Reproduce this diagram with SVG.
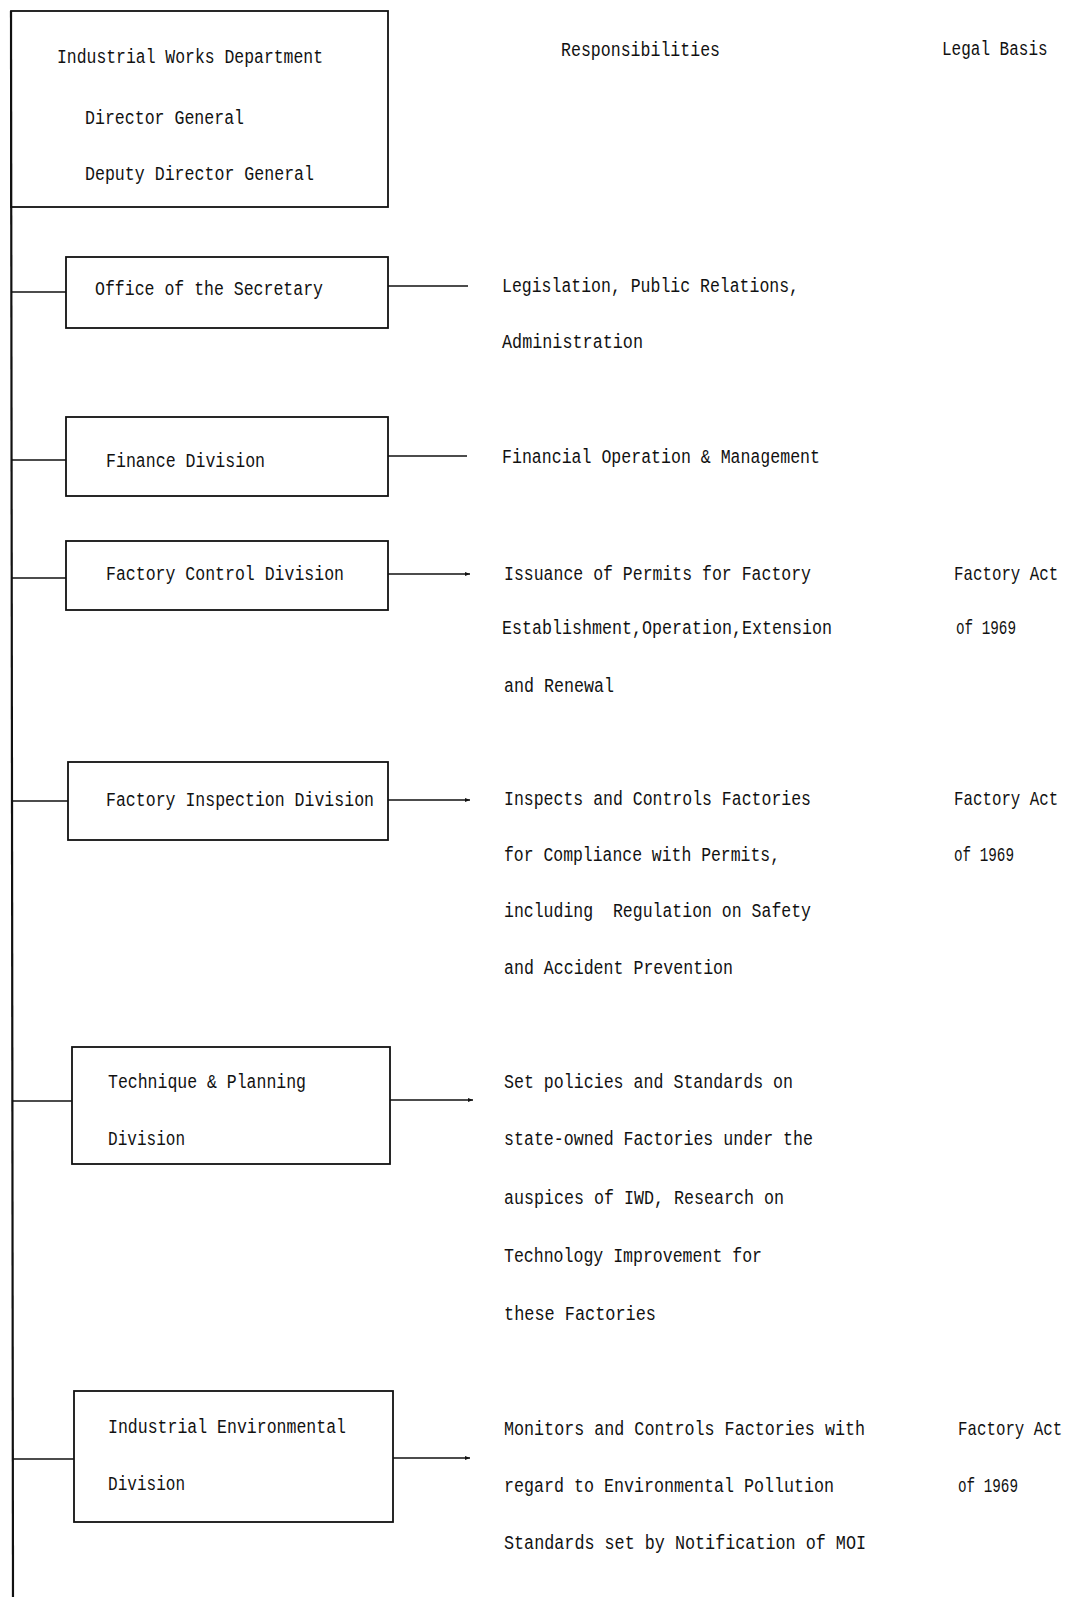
<svg xmlns="http://www.w3.org/2000/svg" width="1068" height="1597" viewBox="0 0 1068 1597">
<style>
.box{fill:none;stroke:#111;stroke-width:1.8}
.ln{fill:none;stroke:#111;stroke-width:1.6}
text{font-family:"Liberation Mono","DejaVu Sans Mono",monospace;font-size:20px;fill:#111}
</style>
<defs>
<marker id="ah" markerWidth="6" markerHeight="6" refX="5" refY="3" orient="auto" markerUnits="userSpaceOnUse">
<path d="M0,1 L5,3 L0,5 Z" fill="#111"/>
</marker>
</defs>
<rect width="1068" height="1597" fill="#fff"/>

<g id="connectors">
<line class="ln" x1="11" y1="11" x2="13" y2="1597" style="stroke-width:2.2"/>
<line class="ln" x1="12" y1="292" x2="66" y2="292"/>
<line class="ln" x1="388" y1="286" x2="468" y2="286"/>
<line class="ln" x1="12" y1="460" x2="66" y2="460"/>
<line class="ln" x1="388" y1="456" x2="467" y2="456"/>
<line class="ln" x1="12" y1="578" x2="66" y2="578"/>
<line class="ln" x1="388" y1="574" x2="470" y2="574" marker-end="url(#ah)"/>
<line class="ln" x1="12" y1="801" x2="68" y2="801"/>
<line class="ln" x1="388" y1="800" x2="470" y2="800" marker-end="url(#ah)"/>
<line class="ln" x1="12" y1="1101" x2="72" y2="1101"/>
<line class="ln" x1="390" y1="1100" x2="473" y2="1100" marker-end="url(#ah)"/>
<line class="ln" x1="13" y1="1459" x2="74" y2="1459"/>
<line class="ln" x1="393" y1="1458" x2="470" y2="1458" marker-end="url(#ah)"/>
</g>

<g id="iwd">
<rect class="box" x="11" y="11" width="377" height="196"/>
<text x="57" y="63" textLength="266" lengthAdjust="spacingAndGlyphs">Industrial Works Department</text>
<text x="85" y="124" textLength="159" lengthAdjust="spacingAndGlyphs">Director General</text>
<text x="85" y="180" textLength="229" lengthAdjust="spacingAndGlyphs">Deputy Director General</text>
</g>

<g id="headers">
<text x="561" y="56" textLength="159" lengthAdjust="spacingAndGlyphs">Responsibilities</text>
<text transform="translate(942,55) scale(0.8,1)">Legal Basis</text>
</g>

<g id="secretary">
<rect class="box" x="66" y="257" width="322" height="71"/>
<text x="95" y="295" textLength="228" lengthAdjust="spacingAndGlyphs">Office of the Secretary</text>
</g>
<g id="secretary-resp">
<text x="502" y="292" textLength="297" lengthAdjust="spacingAndGlyphs">Legislation, Public Relations,</text>
<text x="502" y="348" textLength="141" lengthAdjust="spacingAndGlyphs">Administration</text>
</g>

<g id="finance">
<rect class="box" x="66" y="417" width="322" height="79"/>
<text x="106" y="467" textLength="159" lengthAdjust="spacingAndGlyphs">Finance Division</text>
</g>
<g id="finance-resp">
<text x="502" y="463" textLength="318" lengthAdjust="spacingAndGlyphs">Financial Operation &amp; Management</text>
</g>

<g id="factory-control">
<rect class="box" x="66" y="541" width="322" height="69"/>
<text x="106" y="580" textLength="238" lengthAdjust="spacingAndGlyphs">Factory Control Division</text>
</g>
<g id="factory-control-resp">
<text x="504" y="580" textLength="307" lengthAdjust="spacingAndGlyphs">Issuance of Permits for Factory</text>
<text x="502" y="634" textLength="330" lengthAdjust="spacingAndGlyphs">Establishment,Operation,Extension</text>
<text x="504" y="692" textLength="110" lengthAdjust="spacingAndGlyphs">and Renewal</text>
<text transform="translate(954,580) scale(0.79,1)">Factory Act</text>
<text x="956" y="634" textLength="60" lengthAdjust="spacingAndGlyphs">of 1969</text>
</g>

<g id="factory-inspection">
<rect class="box" x="68" y="762" width="320" height="78"/>
<text x="106" y="806" textLength="268" lengthAdjust="spacingAndGlyphs">Factory Inspection Division</text>
</g>
<g id="factory-inspection-resp">
<text x="504" y="805" textLength="307" lengthAdjust="spacingAndGlyphs">Inspects and Controls Factories</text>
<text x="504" y="861" textLength="276" lengthAdjust="spacingAndGlyphs">for Compliance with Permits,</text>
<text x="504" y="917" textLength="307" lengthAdjust="spacingAndGlyphs" xml:space="preserve">including  Regulation on Safety</text>
<text x="504" y="974" textLength="229" lengthAdjust="spacingAndGlyphs">and Accident Prevention</text>
<text transform="translate(954,805) scale(0.79,1)">Factory Act</text>
<text x="954" y="861" textLength="60" lengthAdjust="spacingAndGlyphs">of 1969</text>
</g>

<g id="technique-planning">
<rect class="box" x="72" y="1047" width="318" height="117"/>
<text x="108" y="1088" textLength="198" lengthAdjust="spacingAndGlyphs">Technique &amp; Planning</text>
<text x="108" y="1145" textLength="77" lengthAdjust="spacingAndGlyphs">Division</text>
</g>
<g id="technique-planning-resp">
<text x="504" y="1088" textLength="289" lengthAdjust="spacingAndGlyphs">Set policies and Standards on</text>
<text x="504" y="1145" textLength="309" lengthAdjust="spacingAndGlyphs">state-owned Factories under the</text>
<text x="504" y="1204" textLength="280" lengthAdjust="spacingAndGlyphs">auspices of IWD, Research on</text>
<text x="504" y="1262" textLength="258" lengthAdjust="spacingAndGlyphs">Technology Improvement for</text>
<text x="504" y="1320" textLength="152" lengthAdjust="spacingAndGlyphs">these Factories</text>
</g>

<g id="industrial-environmental">
<rect class="box" x="74" y="1391" width="319" height="131"/>
<text x="108" y="1433" textLength="238" lengthAdjust="spacingAndGlyphs">Industrial Environmental</text>
<text x="108" y="1490" textLength="77" lengthAdjust="spacingAndGlyphs">Division</text>
</g>
<g id="industrial-environmental-resp">
<text x="504" y="1435" textLength="361" lengthAdjust="spacingAndGlyphs">Monitors and Controls Factories with</text>
<text x="504" y="1492" textLength="330" lengthAdjust="spacingAndGlyphs">regard to Environmental Pollution</text>
<text x="504" y="1549" textLength="362" lengthAdjust="spacingAndGlyphs">Standards set by Notification of MOI</text>
<text transform="translate(958,1435) scale(0.79,1)">Factory Act</text>
<text x="958" y="1492" textLength="60" lengthAdjust="spacingAndGlyphs">of 1969</text>
</g>
</svg>
